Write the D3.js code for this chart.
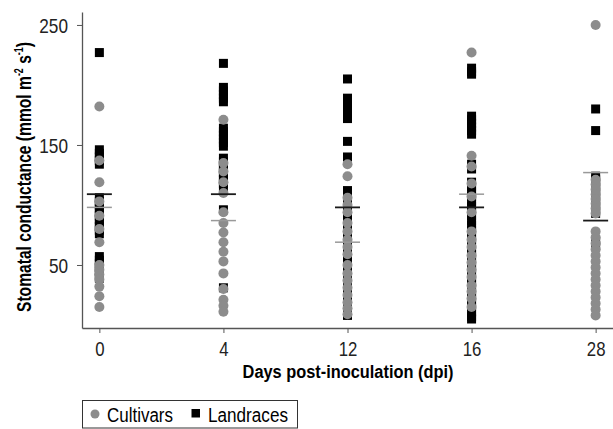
<!DOCTYPE html>
<html>
<head>
<meta charset="utf-8">
<script src="https://cdn.jsdelivr.net/npm/d3@7"></script>
<style>
  body { margin: 0; background: #fff; }
  svg { display: block; font-family: "Liberation Sans", Arial, sans-serif; }
</style>
</head>
<body>
<svg id="chart"></svg>
<script>
var days = ["0", "4", "12", "16", "28"];

// Cultivars (grey circles), one array per day
var cultivars0 = [182, 137, 119, 103, 91, 80, 69, 50, 46, 42, 38, 32, 24, 15];
var cultivars4 = [171, 135, 128, 119, 110, 94, 85, 77, 69, 61, 53, 43, 30, 21, 16, 11];
var cultivars12 = [134, 124, 106, 100, 94, 85, 78, 71, 65, 59, 50, 43, 37, 31, 25, 19, 14, 9];
var cultivars16 = [227, 141, 132, 118, 107, 94, 78, 71, 65, 58, 52, 46, 40, 33, 28, 22, 15];
var cultivars28 = [250, 121, 117, 113, 109, 105, 101, 97, 93, 78, 73, 68, 63, 58, 53, 48, 43, 38, 33, 28, 23, 18, 13, 8];

// Landraces (black squares)
var landraces0 = [227, 146, 143, 140, 137, 134, 106, 103, 100, 97, 94, 91, 88, 85, 82, 79, 76, 57, 54, 51, 48, 45, 42, 39];
var landraces4 = [218, 198, 195, 192, 189, 186, 164, 161, 158, 155, 152, 149, 139, 136, 133, 130, 127, 124, 121, 118, 115, 96, 31];
var landraces12 = [205, 189, 186, 183, 180, 177, 174, 172, 153, 140, 112, 108, 104, 100, 96, 92, 88, 84, 80, 76, 72, 68, 64, 60, 56, 52, 48, 44, 40, 36, 32, 28, 24, 20, 16, 12, 8];
var landraces16 = [214, 211, 209, 174, 171, 168, 165, 162, 159, 134, 130, 119, 115, 111, 107, 103, 99, 95, 91, 87, 83, 79, 75, 71, 67, 63, 59, 55, 51, 47, 43, 39, 35, 31, 27, 23, 19, 15, 11, 7, 5];
var landraces28 = [180, 162, 124, 121, 117, 113, 109, 105, 101, 97, 93, 70, 66];

// mean lines
var cultivarMeans = [98, 87, 69, 109, 127];
var landraceMeans = [109, 109, 98, 98, 87];

var yTicks = [50, 150, 250];

var width = 613, height = 429;
var cultivars = [cultivars0, cultivars4, cultivars12, cultivars16, cultivars28];
var landraces = [landraces0, landraces4, landraces12, landraces16, landraces28];

var svg = d3.select("#chart").attr("width", width).attr("height", height);

// the reference uses a condensed face, so squeeze glyphs with a scale
function squeeze(sel, cx, cy, target) {
  var len = sel.node().getComputedTextLength();
  sel.attr("transform", "translate(" + cx + "," + cy + ") scale(" + (target / len) + ",1)");
}

var x = d3.scalePoint().domain(days).range([82, 613]).padding(0.14);
var y = d3.scaleLinear().domain([-2.5, 260.8]).range([328, 12]);

var axisColor = "#555";

// y axis
var gy = svg.append("g")
  .attr("transform", "translate(82,0)")
  .call(d3.axisLeft(y).tickValues(yTicks).tickSize(5).tickPadding(9).tickSizeOuter(0));
gy.select(".domain").attr("stroke", axisColor).attr("stroke-width", 1.3);
gy.selectAll(".tick line").attr("stroke", axisColor);
gy.selectAll(".tick text")
  .attr("font-size", "20px").attr("fill", "#222").attr("font-family", "inherit")
  .attr("x", 0).attr("dy", "0.36em")
  .attr("transform", "translate(-14,0) scale(0.86,1)");

// x axis
var gx = svg.append("g")
  .attr("transform", "translate(0,328)")
  .call(d3.axisBottom(x).tickSize(5).tickPadding(9).tickSizeOuter(0));
gx.select(".domain").attr("stroke", axisColor).attr("stroke-width", 1.3);
gx.selectAll(".tick line").attr("stroke", axisColor);
gx.selectAll(".tick text")
  .attr("font-size", "20px").attr("fill", "#222").attr("font-family", "inherit")
  .attr("transform", "scale(0.84,1)");

// landraces squares
var sq = 9;
days.forEach(function (d, i) {
  svg.append("g").selectAll("rect")
    .data(landraces[i])
    .enter()
    .append("rect")
    .attr("x", x(d) - sq / 2)
    .attr("y", function (v) { return y(v) - sq / 2; })
    .attr("width", sq)
    .attr("height", sq)
    .attr("fill", "#000");
});

// cultivar circles
days.forEach(function (d, i) {
  svg.append("g").selectAll("circle")
    .data(cultivars[i])
    .enter()
    .append("circle")
    .attr("cx", x(d))
    .attr("cy", function (v) { return y(v); })
    .attr("r", 5)
    .attr("fill", "#8c8c8c");
});

// mean lines
var half = 12.5;
svg.append("g").selectAll("line")
  .data(days)
  .enter()
  .append("line")
  .attr("x1", function (d) { return x(d) - half; })
  .attr("x2", function (d) { return x(d) + half; })
  .attr("y1", function (d, i) { return y(landraceMeans[i]); })
  .attr("y2", function (d, i) { return y(landraceMeans[i]); })
  .attr("stroke", "#1a1a1a")
  .attr("stroke-width", 1.8);

svg.append("g").selectAll("line")
  .data(days)
  .enter()
  .append("line")
  .attr("x1", function (d) { return x(d) - half; })
  .attr("x2", function (d) { return x(d) + half; })
  .attr("y1", function (d, i) { return y(cultivarMeans[i]); })
  .attr("y2", function (d, i) { return y(cultivarMeans[i]); })
  .attr("stroke", "#999")
  .attr("stroke-width", 1.5);

// axis titles
var xt = svg.append("text")
  .attr("text-anchor", "middle")
  .attr("font-size", "19px")
  .attr("font-weight", "bold")
  .text("Days post-inoculation (dpi)");
squeeze(xt, 348, 378, 211);

var yt = svg.append("text")
  .attr("text-anchor", "middle")
  .attr("font-size", "21px")
  .attr("font-weight", "bold");
yt.append("tspan").text("Stomatal conductance (mmol m");
yt.append("tspan").attr("dy", -8).attr("font-size", "12px").text("-2");
yt.append("tspan").attr("dy", 8).text(" s");
yt.append("tspan").attr("dy", -8).attr("font-size", "12px").text("-1");
yt.append("tspan").attr("dy", 8).text(")");
var ytLen = yt.node().getComputedTextLength();
yt.attr("transform", "translate(31,177) rotate(-90) scale(" + (270 / ytLen) + ",1)");

// legend
var lg = svg.append("g");
lg.append("rect")
  .attr("x", 82.5).attr("y", 400.5)
  .attr("width", 215).attr("height", 27.5)
  .attr("fill", "none").attr("stroke", "#333");
lg.append("circle").attr("cx", 95).attr("cy", 414).attr("r", 4.5).attr("fill", "#8c8c8c");
var t1 = lg.append("text").attr("font-size", "21px").text("Cultivars");
squeeze(t1, 107, 421.5, 66);
lg.append("rect").attr("x", 191.5).attr("y", 409).attr("width", 8.5).attr("height", 8.5).attr("fill", "#000");
var t2 = lg.append("text").attr("font-size", "21px").text("Landraces");
squeeze(t2, 208, 421.5, 80);
</script>
</body>
</html>
